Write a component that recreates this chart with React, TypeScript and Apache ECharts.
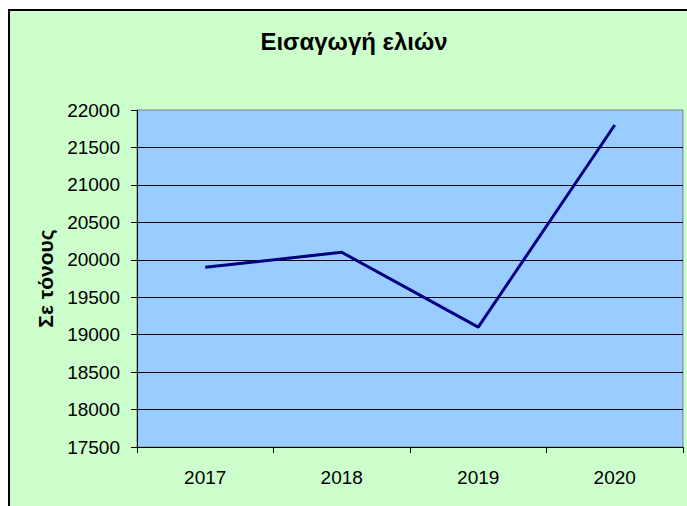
import React, { useEffect, useRef } from "react";
import * as echarts from "echarts";

const titleText = "Εισαγωγή ελιών";
const yAxisName = "Σε τόνους";
const categories = ["2017", "2018", "2019", "2020"];
const imports = [19900, 20100, 19100, 21800];
const yMin = 17500;
const yMax = 22000;
const yInterval = 500;

const FONT = "Arial, 'Liberation Sans', sans-serif";

export default function App() {
  const ref = useRef<HTMLDivElement>(null);
  useEffect(() => {
    if (!ref.current) return;
    const chart = echarts.init(ref.current, undefined, { renderer: "svg" });
    chart.setOption({
      animation: false,
      backgroundColor: "#ffffff",
      textStyle: { fontFamily: FONT },
      title: {
        text: titleText,
        left: 349,
        textAlign: "center",
        top: 24,
        textStyle: { fontSize: 24, fontWeight: "bold", color: "#000", fontFamily: FONT },
      },
      graphic: [
        {
          type: "rect",
          z: -100,
          silent: true,
          shape: { x: 9, y: 10, width: 700, height: 520 },
          style: { fill: "#CCFFCC", stroke: "#000", lineWidth: 2 },
        },
      ],
      grid: {
        left: 137,
        top: 110,
        right: 4,
        bottom: 59,
        show: true,
        backgroundColor: "#99CCFF",
        borderColor: "#808080",
        borderWidth: 1,
        containLabel: false,
      },
      xAxis: {
        type: "category",
        data: categories,
        boundaryGap: true,
        axisLine: { show: true, lineStyle: { color: "#000", width: 1 } },
        axisTick: { show: true, length: 6, alignWithLabel: false, lineStyle: { color: "#000" } },
        axisLabel: { color: "#000", fontSize: 19, margin: 21, fontFamily: FONT },
        splitLine: { show: false },
      },
      yAxis: {
        type: "value",
        min: yMin,
        max: yMax,
        interval: yInterval,
        name: yAxisName,
        nameLocation: "middle",
        nameGap: 78,
        nameTextStyle: { fontSize: 21, fontWeight: "bold", color: "#000", fontFamily: FONT },
        axisLine: { show: true, lineStyle: { color: "#000", width: 1 } },
        axisTick: { show: true, length: 6, lineStyle: { color: "#000" } },
        axisLabel: {
          color: "#000",
          fontSize: 19,
          margin: 17,
          fontFamily: FONT,
          formatter: (v: number) => String(v),
        },
        splitLine: { show: true, showMaxLine: false, lineStyle: { color: "#000", width: 1 } },
      },
      series: [
        {
          type: "line",
          data: imports,
          symbol: "none",
          lineStyle: { color: "#000080", width: 3 },
          itemStyle: { color: "#000080" },
        },
      ],
    });
    return () => chart.dispose();
  }, []);
  return (
    <div
      ref={ref}
      style={{ position: "fixed", left: 0, top: 0, width: 687, height: 506 }}
    />
  );
}
